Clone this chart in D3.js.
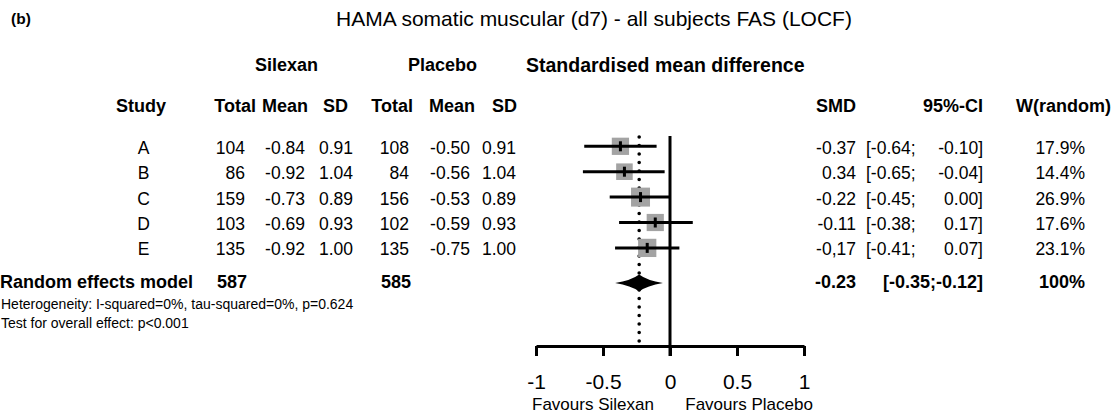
<!DOCTYPE html>
<html>
<head>
<meta charset="utf-8">
<script src="https://cdn.jsdelivr.net/npm/d3@7"></script>
<style>
  html, body { margin: 0; padding: 0; background: #fff; }
  svg { display: block; font-family: "Liberation Sans", Arial, sans-serif; }
  text { white-space: pre; }
</style>
</head>
<body>
<svg id="chart" width="1116" height="414"></svg>
<script>
// ---------- data ----------
const studies = ["A", "B", "C", "D", "E"];
const silexanTotal = [104, 86, 159, 103, 135];
const silexanMean = [-0.84, -0.92, -0.73, -0.69, -0.92];
const silexanSD = [0.91, 1.04, 0.89, 0.93, 1.00];
const placeboTotal = [108, 84, 156, 102, 135];
const placeboMean = [-0.50, -0.56, -0.53, -0.59, -0.75];
const placeboSD = [0.91, 1.04, 0.89, 0.93, 1.00];
const smd = [-0.37, -0.34, -0.22, -0.11, -0.17];
const smdLabels = ["-0.37", "0.34", "-0.22", "-0.11", "-0,17"];
const ciLow = [-0.64, -0.65, -0.45, -0.38, -0.41];
const ciHigh = [-0.10, -0.04, 0.00, 0.17, 0.07];
const weights = [17.9, 14.4, 26.9, 17.6, 23.1];
const pooledSMD = -0.23;
const pooledLow = -0.35;
const pooledHigh = -0.12;
const pooledTotals = [587, 585];
const pooledWeight = "100%";
const axisTicks = [-1, -0.5, 0, 0.5, 1];
const axisTickLabels = ["-1", "-0.5", "0", "0.5", "1"];
const favourLabels = ["Favours Silexan", "Favours Placebo"];
const favourPos = [-0.575, 0.59];

// ---------- layout ----------
const svg = d3.select("#chart");
const fmt2 = v => v.toFixed(2);   // plain hyphen-minus as in the source
const FS = 17.5;     // body font
const HFS = 18;      // header bold font
const rowY = d3.scaleLinear().domain([0, 1]).range([146.3, 171.7]); // row centre
const reY = 282;
const x = d3.scaleLinear().domain([-1, 1]).range([536, 804]);
const sq = d3.scaleLinear().domain([14, 27]).range([16.5, 19]);
const axisY = 346;

function txt(s, xx, yc, opts = {}) {
  const fs = opts.fs || FS;
  return svg.append("text")
    .attr("x", xx)
    .attr("y", yc + 0.358 * fs)
    .attr("font-size", fs)
    .attr("font-weight", opts.bold ? "bold" : "normal")
    .attr("text-anchor", opts.anchor || "end")
    .attr("fill", "#000")
    .text(s);
}

// ---------- titles ----------
txt("(b)", 11, 18, { fs: 15.5, bold: true, anchor: "start" });
txt("HAMA somatic muscular (d7) - all subjects FAS (LOCF)", 594, 18, { fs: 21, anchor: "middle" });

txt("Silexan", 286.5, 65, { fs: HFS, bold: true, anchor: "middle" });
txt("Placebo", 442.5, 65, { fs: HFS, bold: true, anchor: "middle" });
txt("Standardised mean difference", 526, 65, { fs: 19.5, bold: true, anchor: "start" });

const hdrY = 105.7;
txt("Study", 141, hdrY, { fs: HFS, bold: true, anchor: "middle" });
txt("Total", 256, hdrY, { fs: HFS, bold: true });
txt("Mean", 308, hdrY, { fs: HFS, bold: true });
txt("SD", 348, hdrY, { fs: HFS, bold: true });
txt("Total", 413, hdrY, { fs: HFS, bold: true });
txt("Mean", 475, hdrY, { fs: HFS, bold: true });
txt("SD", 517, hdrY, { fs: HFS, bold: true });
txt("SMD", 856, hdrY, { fs: HFS, bold: true });
txt("95%-CI", 983, hdrY, { fs: HFS, bold: true });
txt("W(random)", 1111, hdrY, { fs: HFS, bold: true });

// ---------- study rows ----------
studies.forEach((s, i) => {
  const yc = rowY(i) + 1.2;
  txt(s, 143.5, yc, { anchor: "middle" });
  txt(String(silexanTotal[i]), 245, yc);
  txt(fmt2(silexanMean[i]), 305, yc);
  txt(fmt2(silexanSD[i]), 353, yc);
  txt(String(placeboTotal[i]), 409, yc);
  txt(fmt2(placeboMean[i]), 470, yc);
  txt(fmt2(placeboSD[i]), 516, yc);
  txt(smdLabels[i], 856, yc);
  txt("[" + fmt2(ciLow[i]) + ";", 866, yc, { anchor: "start" });
  txt(fmt2(ciHigh[i]) + "]", 983, yc);
  txt(weights[i].toFixed(1) + "%", 1085, yc);
});

// pooled row
txt("Random effects model", 0, reY, { fs: HFS, bold: true, anchor: "start" });
txt(String(pooledTotals[0]), 247, reY, { fs: HFS, bold: true });
txt(String(pooledTotals[1]), 411, reY, { fs: HFS, bold: true });
txt(fmt2(pooledSMD), 856, reY, { fs: HFS, bold: true });
txt("[" + fmt2(pooledLow) + ";" + fmt2(pooledHigh) + "]", 983, reY, { fs: HFS, bold: true });
txt(pooledWeight, 1085, reY, { fs: HFS, bold: true });

txt("Heterogeneity: I-squared=0%, tau-squared=0%, p=0.624", 1, 304, { fs: 14, anchor: "start" });
txt("Test for overall effect: p<0.001", 1, 323, { fs: 14, anchor: "start" });

// ---------- forest plot ----------
const g = svg.append("g");

// dotted pooled-estimate line
g.append("line")
  .attr("x1", x(pooledSMD)).attr("x2", x(pooledSMD))
  .attr("y1", 137).attr("y2", axisY)
  .attr("stroke", "#000").attr("stroke-width", 3.6)
  .attr("stroke-linecap", "round")
  .attr("stroke-dasharray", "0 8.5");

// squares
g.selectAll("rect.sq").data(studies).join("rect")
  .attr("class", "sq")
  .attr("x", (d, i) => x(smd[i]) - sq(weights[i]) / 2)
  .attr("y", (d, i) => rowY(i) - sq(weights[i]) / 2)
  .attr("width", (d, i) => sq(weights[i]))
  .attr("height", (d, i) => sq(weights[i]))
  .attr("fill", "#a3a3a3");

// CI lines
g.selectAll("line.ci").data(studies).join("line")
  .attr("class", "ci")
  .attr("x1", (d, i) => x(ciLow[i]))
  .attr("x2", (d, i) => x(ciHigh[i]))
  .attr("y1", (d, i) => rowY(i))
  .attr("y2", (d, i) => rowY(i))
  .attr("stroke", "#000").attr("stroke-width", 3);

// point marks
g.selectAll("rect.pt").data(studies).join("rect")
  .attr("class", "pt")
  .attr("x", (d, i) => x(smd[i]) - 1.5)
  .attr("y", (d, i) => rowY(i) - 5)
  .attr("width", 3).attr("height", 10)
  .attr("fill", "#000");

// zero line
g.append("line")
  .attr("x1", x(0)).attr("x2", x(0))
  .attr("y1", 136).attr("y2", axisY + 10)
  .attr("stroke", "#000").attr("stroke-width", 3);

// diamond (concave-sided as in the source)
const dy0 = reY + 1;
const xl = x(pooledLow) - 8, xr = x(pooledHigh) + 9, xc = x(pooledSMD), h = 8.5;
const dPath = `M${xl},${dy0} Q${(xl + xc) / 2 + 4},${dy0 - 2.5} ${xc},${dy0 - h}`
  + ` Q${(xr + xc) / 2 - 4},${dy0 - 2.5} ${xr},${dy0}`
  + ` Q${(xr + xc) / 2 - 4},${dy0 + 2.5} ${xc},${dy0 + h}`
  + ` Q${(xl + xc) / 2 + 4},${dy0 + 2.5} ${xl},${dy0} Z`;
g.append("path").attr("d", dPath).attr("fill", "#000");

// axis
const axis = d3.axisBottom(x)
  .tickValues(axisTicks)
  .tickFormat((d, i) => axisTickLabels[i])
  .tickSize(10)
  .tickSizeOuter(0);
const ag = svg.append("g").attr("transform", `translate(0,${axisY})`).call(axis);
ag.select(".domain").attr("stroke", "#000").attr("stroke-width", 3);
ag.selectAll(".tick line").attr("stroke", "#000").attr("stroke-width", 3);
ag.selectAll(".tick text")
  .attr("font-size", 21)
  .attr("font-family", "'Liberation Sans', Arial, sans-serif")
  .attr("fill", "#000")
  .attr("dy", null)
  .attr("y", 381.7 - axisY + 0.358 * 21);

favourLabels.forEach((s, i) => {
  txt(s, x(favourPos[i]), 404, { fs: 17, anchor: "middle" });
});
</script>
</body>
</html>
